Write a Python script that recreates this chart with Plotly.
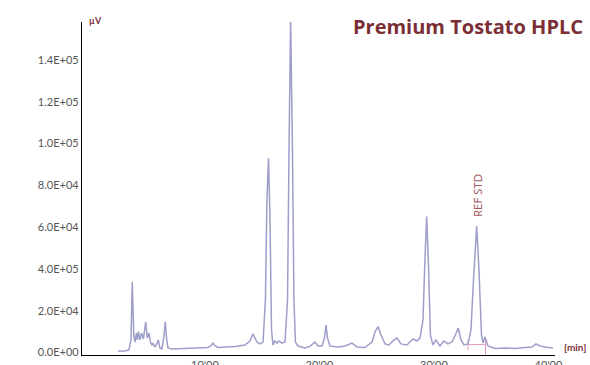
# HPLC chromatogram - Premium Tostato
import plotly.graph_objects as go

# retention time (min) and signal (uV)
time_min = [
    2.40, 3.01, 3.36, 3.54, 3.65, 3.78, 3.89, 4.02, 4.10, 4.19,
    4.32, 4.47, 4.63, 4.82, 4.96, 5.11, 5.24, 5.37, 5.48, 5.63,
    5.76, 5.92, 6.07, 6.24, 6.42, 6.53, 6.66, 6.77, 7.12, 7.82,
    8.69, 9.56, 10.26, 10.52, 10.70, 10.87, 11.14, 11.75, 12.62, 13.49,
    13.93, 14.19, 14.37, 14.54, 14.80, 15.07, 15.28, 15.41, 15.55, 15.68,
    15.81, 15.94, 16.11, 16.29, 16.46, 16.72, 16.99, 17.21, 17.34, 17.48,
    17.64, 17.77, 17.90, 18.12, 18.73, 19.17, 19.61, 19.87, 20.22, 20.44,
    20.57, 20.70, 20.92, 21.62, 22.23, 22.84, 23.28, 23.97, 24.59, 24.85,
    25.11, 25.37, 25.72, 26.07, 26.51, 26.77, 27.12, 27.64, 28.17, 28.52,
    28.78, 29.04, 29.21, 29.36, 29.52, 29.69, 29.91, 30.17, 30.52, 30.87,
    31.22, 31.57, 31.83, 32.12, 32.36, 32.62, 32.97, 33.23, 33.45, 33.73,
    33.93, 34.15, 34.28, 34.45, 34.72, 35.33, 36.20, 37.07, 37.95, 38.56,
    38.91, 39.26, 39.69, 40.39,
]
signal_uv = [
    700, 700, 1200, 6000, 33700, 8400, 5000, 9300, 6000, 10000,
    6000, 9300, 6500, 14700, 6900, 9300, 5000, 3600, 4500, 2600,
    3600, 6000, 2200, 1700, 7900, 14700, 6000, 2200, 1700, 1900,
    1900, 2200, 2400, 3300, 4500, 3300, 2400, 2600, 2900, 3600,
    5500, 8900, 6500, 5000, 4100, 5000, 25100, 73000, 93000, 63400,
    10800, 3600, 5500, 4500, 5500, 4500, 5000, 25100, 96900, 160000,
    96900, 25100, 5000, 3100, 2200, 2900, 5000, 3100, 3100, 6900,
    13200, 6900, 3100, 2600, 3100, 4500, 2600, 2400, 5000, 9800,
    12400, 8400, 4100, 3600, 6000, 6900, 4100, 3600, 6500, 5500,
    6900, 15600, 44300, 65100, 41900, 8400, 3600, 6000, 3100, 5500,
    4100, 5000, 7900, 11700, 6000, 3600, 4100, 10800, 34700, 60500,
    39500, 8400, 4500, 7400, 3100, 1900, 2200, 1900, 2400, 2600,
    4100, 3100, 2600, 2200,
]

# integration marks around the reference standard peak
ref_base_t = [32.97, 32.97, None, 32.97, 34.50, None, 34.50, 34.50]
ref_base_v = [1000, 6000, None, 3800, 3800, None, -1000, 7000]

tick_vals = [0, 20000, 40000, 60000, 80000, 100000, 120000, 140000]
tick_text = ["0.0E+00", "2.0E+04", "4.0E+05", "6.0E+04", "8.0E+04", "1.0E+05", "1.2E+05", "1.4E+05"]
x_tick_vals = [10, 20, 30, 40]
x_tick_text = ["10'00", "20'00", "30'00", "40'00"]

RED = "#7b2f35"

fig = go.Figure()
fig.add_trace(
    go.Scatter(
        x=ref_base_t,
        y=ref_base_v,
        mode="lines",
        line=dict(color="#e89ac0", width=1),
        hoverinfo="skip",
    )
)
fig.add_trace(
    go.Scatter(
        x=time_min,
        y=signal_uv,
        mode="lines",
        line=dict(color="#9e9ecb", width=1.5),
    )
)

fig.update_layout(
    width=590,
    height=365,
    autosize=False,
    plot_bgcolor="white",
    paper_bgcolor="white",
    showlegend=False,
    margin=dict(l=82, r=35, t=22, b=10),
    font=dict(family="Lato", size=11, color="#555555"),
)

fig.update_xaxes(
    range=[-0.74, 40.57],
    showgrid=False,
    zeroline=False,
    showline=True,
    linecolor="black",
    linewidth=1.2,
    tickvals=x_tick_vals,
    ticktext=x_tick_text,
    ticks="",
    automargin=False,
    tickfont=dict(size=11, color="#555555"),
)
fig.update_yaxes(
    range=[-1200, 158150],
    showgrid=False,
    zeroline=False,
    showline=True,
    linecolor="black",
    linewidth=1.2,
    tickvals=tick_vals,
    ticktext=tick_text,
    ticks="",
    automargin=False,
    tickfont=dict(size=11, color="#555555"),
)

fig.add_annotation(
    text="<b>Premium Tostato HPLC</b>",
    xref="paper", yref="paper",
    x=1.063, y=0.985,
    xanchor="right", yanchor="middle",
    showarrow=False,
    font=dict(family="Open Sans", size=20, color=RED),
)
fig.add_annotation(
    text="<b>µV</b>",
    xref="paper", yref="paper",
    x=0.01, y=1.006,
    xanchor="left", yanchor="middle",
    showarrow=False,
    font=dict(family="Lato", size=9, color=RED),
)
fig.add_annotation(
    text="<b>[min]</b>",
    xref="paper", yref="paper",
    x=1.015, y=0.024,
    xanchor="left", yanchor="middle",
    showarrow=False,
    font=dict(family="Lato", size=10, color=RED),
)
fig.add_annotation(
    text="REF STD",
    x=33.85, y=75000,
    textangle=-90,
    showarrow=False,
    bgcolor="white",
    font=dict(family="Lato", size=11, color="#a45a5e"),
)

# drop the default 8px page margin so the figure fills the window
fig.write_html(
    "out.html",
    config={"displayModeBar": False},
    post_script="document.body.style.margin='0';document.body.style.overflow='hidden';",
)
